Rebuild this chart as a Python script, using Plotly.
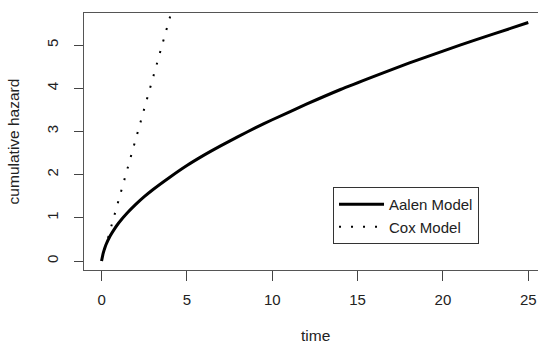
import plotly.graph_objects as go

# Aalen model cumulative hazard
aalen_time = [0, 0.1, 0.25, 0.5, 0.75, 1, 1.5, 2, 2.5, 3, 4, 5, 6, 7, 8, 9, 10,
              12, 14, 16, 18, 20, 22, 24, 25]
aalen_haz = [0, 0.19, 0.37, 0.58, 0.74, 0.88, 1.11, 1.31, 1.49, 1.65, 1.94, 2.21,
             2.45, 2.67, 2.88, 3.08, 3.27, 3.63, 3.97, 4.28, 4.58, 4.86, 5.13, 5.39, 5.52]

# Cox model cumulative hazard (runs off the top)
cox_time = [0, 1, 2, 3, 4, 4.3]
cox_haz = [0, 1.41, 2.82, 4.23, 5.64, 6.06]

x_ticks = [0, 5, 10, 15, 20, 25]
y_ticks = [0, 1, 2, 3, 4, 5]
x_title = "time"
y_title = "cumulative hazard"

FONT = "Liberation Sans, Arial, sans-serif"
TXT = "#222222"
AX = "#444444"

fig = go.Figure()
fig.add_trace(go.Scatter(x=aalen_time, y=aalen_haz, mode="lines", name="Aalen Model",
                         line=dict(color="black", width=3, shape="spline", smoothing=0.6)))
fig.add_trace(go.Scatter(x=cox_time, y=cox_haz, mode="lines", name="Cox Model",
                         line=dict(color="black", width=2, dash="2px,10px")))

fig.update_layout(
    width=538, height=345,
    margin=dict(l=84, r=0, t=13, b=75),
    paper_bgcolor="white", plot_bgcolor="white",
    font=dict(family=FONT, size=15, color=TXT),
    showlegend=True,
    legend=dict(x=0.5485, y=0.323, xanchor="left", yanchor="top",
                bgcolor="white", bordercolor="#333333", borderwidth=1,
                itemwidth=45,
                font=dict(family=FONT, size=15, color=TXT)),
    xaxis=dict(range=[-1.03, 25.57], tickvals=x_ticks, ticks="outside", ticklen=10,
               tickcolor=AX, tickwidth=1, showline=True, linecolor="#555555",
               linewidth=1.2, mirror=True, showgrid=False, zeroline=False,
               automargin=False, ticklabelstandoff=6),
    yaxis=dict(range=[-0.208, 5.741], tickvals=y_ticks, ticks="outside", ticklen=9,
               tickcolor=AX, tickwidth=1, showline=True, linecolor="#555555",
               linewidth=1.2, showgrid=False, zeroline=False, tickangle=-90,
               automargin=False,
               title=dict(text=y_title, standoff=20,
                          font=dict(family=FONT, size=15.5, color=TXT)),
               ticklabelstandoff=10),
    annotations=[dict(text=x_title, xref="paper", yref="paper", x=0.509, y=-0.2568,
                      xanchor="center", yanchor="middle", showarrow=False,
                      font=dict(family=FONT, size=15.5, color=TXT))],
)

fig.write_html("out.html")
